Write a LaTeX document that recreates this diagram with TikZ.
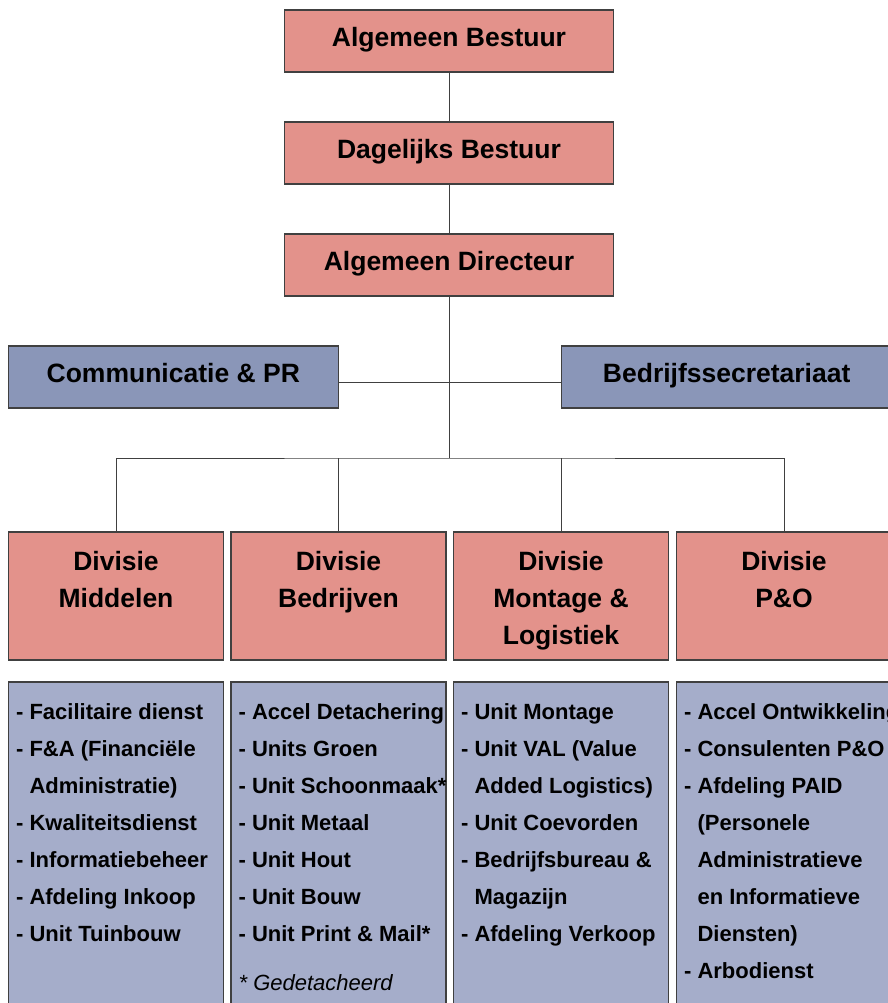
\documentclass[tikz,border=0pt]{standalone}
\usepackage{fontspec}
\setmainfont{Liberation Sans}
\definecolor{orgred}{HTML}{E3928B}
\definecolor{orgblue}{HTML}{8A96B8}
\definecolor{orglist}{HTML}{A5ADCA}
\definecolor{orgline}{HTML}{404040}
\tikzset{
  topbox/.style={draw=orgline,line width=1.2pt,fill=orgred,minimum width=329pt,minimum height=62pt,inner sep=0pt,
    text height=19pt,text depth=8pt,font=\fontsize{26.5}{37}\selectfont\bfseries},
  staffbox/.style={topbox,fill=orgblue,minimum width=330pt},
  divbox/.style={draw=orgline,line width=1.2pt,fill=orgred,minimum width=215pt,minimum height=128pt,inner sep=0pt},
  listbox/.style={draw=orgline,line width=1.2pt,fill=orglist,minimum width=215pt,minimum height=340pt,inner sep=0pt},
  divtext/.style={anchor=north,align=center,inner sep=0pt,font=\fontsize{26.5}{37}\selectfont\bfseries},
  listtext/.style={anchor=north west,align=left,inner sep=0pt,font=\fontsize{22}{37}\selectfont\bfseries},
  link/.style={draw=orgline,line width=0.9pt}
}
\newcommand{\ind}{\hphantom{- }}
\begin{document}
\begin{tikzpicture}[x=1pt,y=-1pt]
\useasboundingbox (0,0) rectangle (887,1003);
% bestuur
\node[topbox] (ab) at (449,41) {Algemeen Bestuur};
\node[topbox] (db) at (449,153) {Dagelijks Bestuur};
\node[topbox] (ad) at (449,265) {Algemeen Directeur};
\node[staffbox] (cpr) at (173.3,377) {Communicatie \& PR};
\node[staffbox] (bs) at (726.7,377) {Bedrijfssecretariaat};
\coordinate (bus) at (449,458);
% divisies
\node[divbox] (dM) at (116,596) {};
\node[divbox] (dB) at (338.5,596) {};
\node[divbox] (dL) at (561,596) {};
\node[divbox] (dP) at (784,596) {};
\node[divtext] (tM) at (dM.north |- 0,551) {Divisie\\Middelen};
\node[divtext] (tB) at (dB.north |- 0,551) {Divisie\\Bedrijven};
\node[divtext] (tL) at (dL.north |- 0,551) {Divisie\\Montage \&\\Logistiek};
\node[divtext] (tP) at (dP.north |- 0,551) {Divisie\\P\&O};
% onderdelen
\node[listbox] (lM) at (116,852) {};
\node[listbox] (lB) at (338.5,852) {};
\node[listbox] (lL) at (561,852) {};
\node[listbox] (lP) at (784,852) {};
\node[listtext] (iM) at ([xshift=8pt]lM.north west |- 0,703.3) {- Facilitaire dienst\\- F\&A (Financiële\\\ind Administratie)\\- Kwaliteitsdienst\\- Informatiebeheer\\- Afdeling Inkoop\\- Unit Tuinbouw};
\node[listtext] (iB) at ([xshift=8pt]lB.north west |- 0,703.3) {- Accel Detachering\\- Units Groen\\- Unit Schoonmaak*\\- Unit Metaal\\- Unit Hout\\- Unit Bouw\\- Unit Print \& Mail*\\[12pt]{\normalfont\itshape * Gedetacheerd}};
\node[listtext] (iL) at ([xshift=8pt]lL.north west |- 0,703.3) {- Unit Montage\\- Unit VAL (Value\\\ind Added Logistics)\\- Unit Coevorden\\- Bedrijfsbureau \&\\\ind Magazijn\\- Afdeling Verkoop};
\node[listtext] (iP) at ([xshift=8pt]lP.north west |- 0,703.3) {- Accel Ontwikkeling\\- Consulenten P\&O\\- Afdeling PAID\\\ind(Personele\\\ind Administratieve\\\ind en Informatieve\\\ind Diensten)\\- Arbodienst};
% lijnen
\draw[link] (ab) -- (db) (db) -- (ad) (ad) -- (bus);
\draw[link] ([yshift=-5.5pt]cpr.east) -- ([yshift=-5.5pt]bs.west);
\draw[link] (dM.north) |- (bus) -| (dP.north);
\draw[link] (dB.north) -- (dB.north |- bus) (dL.north) -- (dL.north |- bus);
\end{tikzpicture}
\end{document}
